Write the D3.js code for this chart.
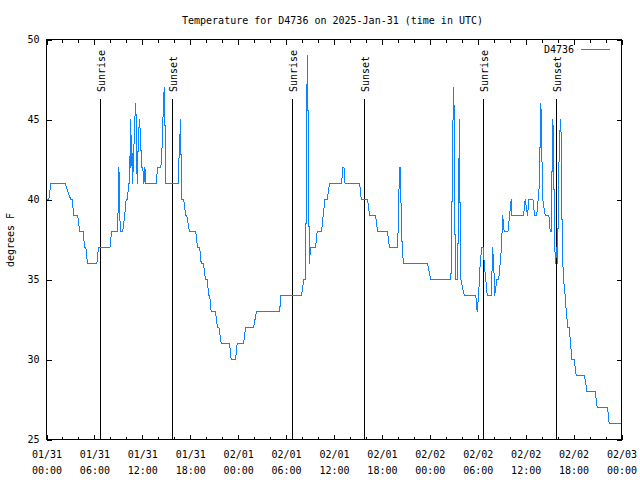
<!DOCTYPE html>
<html><head><meta charset="utf-8">
<script src="https://cdn.jsdelivr.net/npm/d3@7"></script>
<style>
body{margin:0;background:#fff}
svg{display:block;background:#fff}
text{font-family:"DejaVu Sans Mono",monospace;font-size:10px;fill:#000}
</style>
</head><body><svg id="c" width="640" height="480"></svg>
<script>
// ---- data (hours since 2025-01-31 00:00 UTC, temperature in F) ----
const hours = [
 0.10,0.30,0.53,2.34,3.03,3.22,3.41,3.91,4.16,4.60,
 4.76,4.93,5.13,6.31,6.51,7.94,8.16,8.89,8.95,9.07,
 9.17,9.27,9.54,9.79,9.98,10.14,10.29,10.42,10.51,10.58,
 10.67,10.77,10.86,11.06,11.19,11.27,11.36,11.51,11.65,11.76,
 11.92,12.05,12.20,12.32,12.45,13.74,13.90,14.32,14.45,14.58,
 14.65,14.74,14.83,14.95,16.49,16.62,16.80,16.90,17.18,17.43,
 17.56,17.91,18.68,18.91,19.18,19.37,19.66,19.91,20.12,20.31,
 20.44,20.62,21.16,21.41,21.59,21.88,22.92,23.13,23.67,23.88,
 24.67,24.92,25.92,26.30,29.20,29.33,31.93,32.23,32.43,32.49,
 32.58,32.68,32.74,32.83,32.93,33.06,33.68,33.90,34.44,34.65,
 34.86,35.15,35.44,36.96,37.09,37.25,37.38,39.22,39.41,40.20,
 40.45,41.20,41.45,42.70,42.95,43.98,44.10,44.23,44.31,44.42,
 44.54,44.69,47.71,48.11,50.64,50.74,50.86,50.99,51.09,51.18,
 51.47,51.55,51.64,51.72,51.80,51.89,52.31,53.75,53.93,54.10,
 54.31,54.50,54.68,54.81,55.00,55.19,55.72,55.85,56.00,56.12,
 56.40,56.62,56.81,56.97,57.12,57.31,57.78,57.98,58.19,58.28,
 59.73,59.94,60.23,60.41,60.91,61.11,61.38,61.57,61.73,61.82,
 61.91,61.98,62.14,62.45,62.91,63.07,63.24,63.32,63.41,63.49,
 63.64,63.76,63.89,63.99,64.16,64.26,64.39,64.48,64.58,64.74,
 64.95,65.08,65.29,65.45,65.62,65.79,66.08,66.33,67.37,67.67,
 68.71,68.96,70.25,70.46,71.96
];
const temps = [
 40,40,41,41,40,40,39,39,38,38,
 37,37,36,36,37,37,38,38,39,42,
 39,38,38,39,40,40,41,41,45,42,
 44,41,42,45,46,43,41,44,45,44,
 42,42,41,42,41,41,42,42,43,45,
 46,47,45,41,41,43,45,40,40,39,
 39,38,38,37,37,36,36,35,35,34,
 34,33,33,32,32,31,31,30,30,31,
 31,32,32,33,33,34,34,35,35,38,
 46,49,46,40,36,37,37,38,38,39,
 40,40,41,41,42,42,41,41,40,40,
 39,39,38,38,37,37,40,42,42,39,
 37,36,36,35,35,38,44,47,44,35,
 35,38,42,45,38,35,34,34,33,34,
 36,37,37,36,35,34,34,37,36,34,
 35,35,36,37,39,38,38,39,40,39,
 39,40,39,40,40,39,39,40,41,44,
 46,44,40,39,39,38,38,43,45,43,
 37,36,37,36,42,44,45,43,37,35,
 34,33,32,32,31,30,30,29,29,28,
 28,27,27,26,26
];
const eventLabels = ["Sunrise","Sunset","Sunrise","Sunset","Sunrise","Sunset"];
const eventHours = [6.76,15.78,30.80,39.82,54.72,63.86];
const yTicks = [25,30,35,40,45,50];
const xMajorHours = [0,6,12,18,24,30,36,42,48,54,60,66,72];
const xMinorHours = d3.range(0,73,2);
const seriesName = "D4736";
const titleText = "Temperature for D4736 on 2025-Jan-31 (time in UTC)";
const yLabelText = "degrees F";

// ---- drawing ----
const t0 = Date.UTC(2025,0,31);
const toDate = h => new Date(t0 + h*3600e3);
const L=46.5,R=621.5,T=39.5,B=439.5;
const svg = d3.select("#c");
const x = d3.scaleUtc().domain([toDate(0), toDate(72)]).range([L,R]);
const y = d3.scaleLinear().domain([25,50]).range([B,T]);
const lineColor = "#0a84ff";

function styleAxis(g){ g.select(".domain").remove(); g.attr("font-family",null).attr("font-size",null);
  g.selectAll("line").attr("stroke","#000").attr("shape-rendering","crispEdges"); }

// minor x ticks
svg.append("g").attr("transform",`translate(0,${B})`)
  .call(d3.axisBottom(x).tickValues(xMinorHours.map(toDate)).tickSizeInner(-3).tickSizeOuter(0).tickFormat(""))
  .call(styleAxis);
svg.append("g").attr("transform",`translate(0,${T})`)
  .call(d3.axisTop(x).tickValues(xMinorHours.map(toDate)).tickSizeInner(-3).tickSizeOuter(0).tickFormat(""))
  .call(styleAxis);
// major x ticks
const f1 = d3.utcFormat("%m/%d"), f2 = d3.utcFormat("%H:%M");
const gx = svg.append("g").attr("transform",`translate(0,${B})`)
  .call(d3.axisBottom(x).tickValues(xMajorHours.map(toDate)).tickSizeInner(-5).tickSizeOuter(0).tickFormat(f1))
  .call(styleAxis);
gx.selectAll("text").each(function(d){
  const t=d3.select(this); t.text(null).attr("dy",null).attr("y",0);
  t.append("tspan").attr("x",0).attr("y",18).text(f1(d));
  t.append("tspan").attr("x",0).attr("y",34).text(f2(d));
});
svg.append("g").attr("transform",`translate(0,${T})`)
  .call(d3.axisTop(x).tickValues(xMajorHours.map(toDate)).tickSizeInner(-5).tickSizeOuter(0).tickFormat(""))
  .call(styleAxis);
// y ticks
svg.append("g").attr("transform",`translate(${L},0)`)
  .call(d3.axisLeft(y).tickValues(yTicks).tickSizeInner(-5).tickSizeOuter(0).tickPadding(7))
  .call(styleAxis);
svg.append("g").attr("transform",`translate(${R},0)`)
  .call(d3.axisRight(y).tickValues(yTicks).tickSizeInner(-5).tickSizeOuter(0).tickFormat(""))
  .call(styleAxis);

// frame
svg.append("rect").attr("x",L).attr("y",T).attr("width",R-L).attr("height",B-T)
  .attr("fill","none").attr("stroke","#000").attr("shape-rendering","crispEdges");

// sunrise / sunset lines
eventHours.forEach((h,i)=>{
  const xx = Math.round(x(toDate(h))-0.5)+0.5;
  svg.append("line").attr("x1",xx).attr("x2",xx).attr("y1",99).attr("y2",B)
    .attr("stroke","#000").attr("shape-rendering","crispEdges");
  svg.append("text").attr("transform",`translate(${xx+4},92) rotate(-90)`)
    .attr("text-anchor","start").text(eventLabels[i]);
});

// data line
const pts = hours.map((h,i)=>({d:toDate(h), t:temps[i]}));
svg.append("path").datum(pts)
  .attr("fill","none").attr("stroke",lineColor).attr("stroke-width",1)
  .attr("shape-rendering","crispEdges")
  .attr("d", d3.line().x(p=>x(p.d)).y(p=>y(p.t)));

// legend
svg.append("text").attr("x",574).attr("y",53).attr("text-anchor","end").text(seriesName);
svg.append("line").attr("x1",581).attr("x2",610).attr("y1",49.5).attr("y2",49.5)
  .attr("stroke",lineColor).attr("shape-rendering","crispEdges");

// title and y label
svg.append("text").attr("x",332.5).attr("y",24).attr("text-anchor","middle").text(titleText);
svg.append("text").attr("transform","translate(14,240) rotate(-90)").attr("text-anchor","middle").text(yLabelText);
</script>
</body></html>
